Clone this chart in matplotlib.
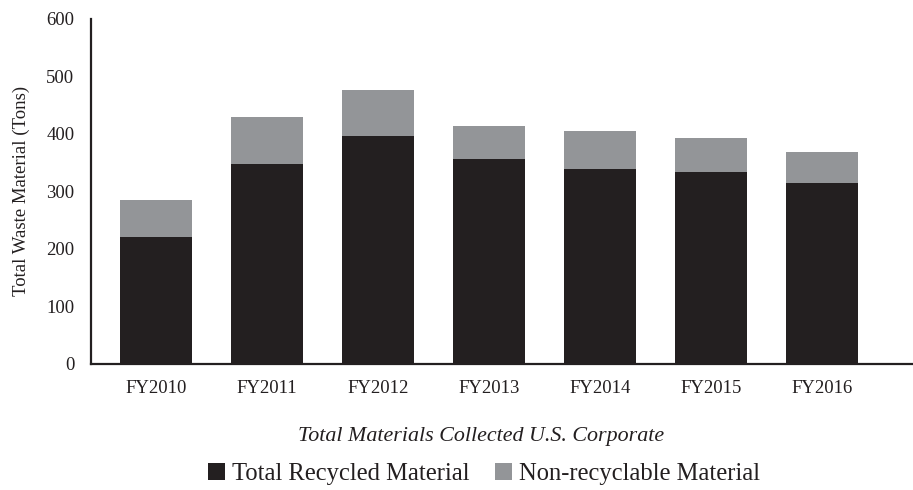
import matplotlib
matplotlib.use("Agg")
import matplotlib.pyplot as plt
import numpy as np

categories = ["FY2010", "FY2011", "FY2012", "FY2013", "FY2014", "FY2015", "FY2016"]
recycled = [221, 348, 397, 357, 339, 334, 315]
non_recyclable = [64, 82, 80, 57, 66, 59, 54]
y_ticks = [0, 100, 200, 300, 400, 500, 600]

plt.rcParams['font.family'] = ['Liberation Serif', 'DejaVu Serif']

dark = "#231f20"
gray = "#939598"

fig = plt.figure(figsize=(9.13, 4.90), dpi=100)
ax = fig.add_axes([91/913, 1 - 363.5/490, 1 - 91/913, (363.5 - 19)/490])

x = np.arange(len(categories))
w = 0.65
b1 = ax.bar(x, recycled, width=w, color=dark, label="Total Recycled Material", zorder=2)
b2 = ax.bar(x, non_recyclable, width=w, bottom=recycled, color=gray,
            label="Non-recyclable Material", zorder=2)

ax.set_xlim(-0.586, 6.82)
ax.set_ylim(0, 600)
ax.set_yticks(y_ticks)
ax.set_xticks(x)
ax.set_xticklabels(categories)
ax.tick_params(axis='both', length=0, labelsize=13.5, colors="#231f20")
ax.tick_params(axis='y', pad=12)
ax.tick_params(axis='x', pad=12)
for s in ["top", "right"]:
    ax.spines[s].set_visible(False)
for s in ["left", "bottom"]:
    ax.spines[s].set_linewidth(1.6)
    ax.spines[s].set_color("#231f20")

ax.set_ylabel("Total Waste Material (Tons)", fontsize=13.5, color="#231f20", labelpad=12)

fig.text(481/913, 1 - 436/490, "Total Materials Collected U.S. Corporate",
         fontsize=15.8, style='italic', ha='center', va='center', color="#231f20")

fig.legend(handles=[b1, b2], loc='center', bbox_to_anchor=(484/913, 1 - 474/490),
           ncol=2, frameon=False, fontsize=17.7, handlelength=0.7, handleheight=0.7,
           handletextpad=0.3, columnspacing=1.0, labelcolor="#231f20")

fig.savefig("out.png", dpi=100)
